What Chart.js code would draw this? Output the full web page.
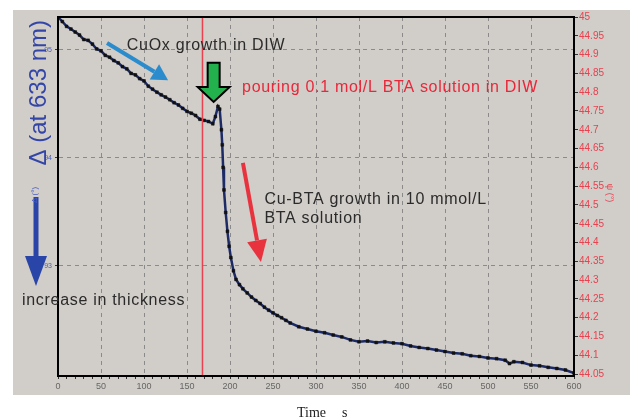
<!DOCTYPE html>
<html>
<head>
<meta charset="utf-8">
<script src="https://cdn.jsdelivr.net/npm/chart.js@4.4.1/dist/chart.umd.min.js"></script>
<style>
  body { margin: 0; background: #fff; }
  #wrap { width: 630px; height: 419px; position: relative; }
</style>
</head>
<body>
<div id="wrap"><canvas id="psiChart"></canvas></div>
<script>
// time (s) and psi values
const timeS = [0, 5, 10, 15, 20, 25, 30, 35, 40, 45, 50, 55, 60, 65, 70, 75, 80, 85, 90, 95,
    100, 105, 110, 115, 120, 125, 130, 135, 140, 145, 150, 155, 160, 165, 170, 175, 180, 183, 186, 188,
    190, 191, 192, 193, 195, 197, 199, 201, 204, 207, 211, 215, 220, 225, 230, 235, 240, 245, 250, 255,
    260, 265, 270, 280, 290, 300, 310, 320, 330, 340, 350, 360, 370, 380, 390, 400, 410, 420, 430, 440,
    450, 460, 470, 480, 490, 500, 510, 520, 525, 530, 540, 550, 560, 570, 580, 590, 600];
const psiValues = [45.000, 44.988, 44.975, 44.968, 44.960, 44.952, 44.940, 44.938, 44.928, 44.915,
    44.910, 44.898, 44.893, 44.884, 44.878, 44.868, 44.862, 44.850, 44.846, 44.836,
    44.830, 44.816, 44.808, 44.800, 44.793, 44.787, 44.780, 44.772, 44.766, 44.757,
    44.749, 44.744, 44.738, 44.728, 44.725, 44.722, 44.716, 44.735, 44.762, 44.755,
    44.700, 44.660, 44.600, 44.540, 44.480, 44.430, 44.390, 44.360, 44.325, 44.302,
    44.288, 44.277, 44.266, 44.255, 44.246, 44.238, 44.228, 44.220, 44.213, 44.206,
    44.200, 44.193, 44.186, 44.176, 44.170, 44.164, 44.160, 44.154, 44.149, 44.141,
    44.136, 44.138, 44.134, 44.136, 44.133, 44.131, 44.125, 44.121, 44.118, 44.114,
    44.110, 44.106, 44.104, 44.099, 44.097, 44.093, 44.091, 44.087, 44.078, 44.083,
    44.081, 44.074, 44.072, 44.068, 44.065, 44.061, 44.053];
const deltaTicks = [93, 94, 95];
const pouringTime = 168;

// draws an arrow from (x1,y1) to tip (x2,y2)
function drawArrow(ctx, x1, y1, x2, y2, color, width, headLen, headHalf) {
    const ang = Math.atan2(y2 - y1, x2 - x1);
    const bx = x2 - headLen * Math.cos(ang);
    const by = y2 - headLen * Math.sin(ang);
    ctx.save();
    ctx.strokeStyle = color;
    ctx.fillStyle = color;
    ctx.lineWidth = width;
    ctx.beginPath();
    ctx.moveTo(x1, y1);
    ctx.lineTo(bx, by);
    ctx.stroke();
    ctx.beginPath();
    ctx.moveTo(x2, y2);
    ctx.lineTo(bx + headHalf * Math.sin(ang), by - headHalf * Math.cos(ang));
    ctx.lineTo(bx - headHalf * Math.sin(ang), by + headHalf * Math.cos(ang));
    ctx.closePath();
    ctx.fill();
    ctx.restore();
}

const backdrop = {
    id: 'backdrop',
    beforeDraw(chart) {
        const ctx = chart.ctx;
        ctx.save();
        ctx.fillStyle = '#d1cdc8';
        ctx.fillRect(13, 10, chart.width - 13, 385);
        ctx.restore();
    }
};

const decorations = {
    id: 'decorations',
    afterDraw(chart) {
        const ctx = chart.ctx;
        const area = chart.chartArea;
        const x = chart.scales.x;
        const y = chart.scales.psi;
        const px = v => x.getPixelForValue(v);
        const py = v => y.getPixelForValue(v);

        ctx.save();
        // pouring line
        ctx.strokeStyle = '#e8414f';
        ctx.lineWidth = 1.5;
        ctx.beginPath();
        ctx.moveTo(px(pouringTime), area.top);
        ctx.lineTo(px(pouringTime), area.bottom);
        ctx.stroke();

        // frame
        ctx.strokeStyle = '#000';
        ctx.lineWidth = 2;
        ctx.strokeRect(area.left, area.top, area.right - area.left, area.bottom - area.top);

        // arrows
        drawArrow(ctx, px(57), py(44.931), px(128), py(44.832), '#2a8ccc', 4, 16, 9);
        drawArrow(ctx, px(215), py(44.612), px(236), py(44.348), '#e8333f', 4, 22, 10);

        // green arrow with black outline
        const gx = px(181), gTip = py(44.774), gTop = py(44.878), gHead = py(44.814);
        ctx.beginPath();
        ctx.moveTo(gx - 6, gTop);
        ctx.lineTo(gx + 6, gTop);
        ctx.lineTo(gx + 6, gHead);
        ctx.lineTo(gx + 16, gHead);
        ctx.lineTo(gx, gTip);
        ctx.lineTo(gx - 16, gHead);
        ctx.lineTo(gx - 6, gHead);
        ctx.closePath();
        ctx.fillStyle = '#22b14c';
        ctx.fill();
        ctx.lineWidth = 2;
        ctx.strokeStyle = '#000';
        ctx.stroke();

        // navy arrow beside the left axis
        drawArrow(ctx, area.left - 22, 197, area.left - 22, 286, '#2a45a8', 5, 30, 11);

        // texts
        ctx.font = '16px "Liberation Sans", Arial, sans-serif';
        ctx.letterSpacing = '0.7px';
        ctx.textBaseline = 'alphabetic';
        ctx.fillStyle = '#2b2b2b';
        ctx.fillText('CuOx growth in DIW', px(80), py(44.912));
        ctx.fillText('Cu-BTA growth in 10 mmol/L', px(240), py(44.503));
        ctx.fillText('BTA solution', px(240), py(44.452));
        ctx.fillText('increase in thickness', 22, 305);
        ctx.fillStyle = '#e8283a';
        ctx.fillText('pouring 0.1 mol/L BTA solution in DIW', px(214), py(44.80));
        ctx.letterSpacing = '0px';

        // rotated axis texts
        ctx.save();
        ctx.translate(46, 20);
        ctx.rotate(-Math.PI / 2);
        ctx.textAlign = 'right';
        ctx.fillStyle = '#3346a8';
        ctx.font = '24px "Liberation Sans", Arial, sans-serif';
        ctx.fillText('\u0394 (at 633 nm)', 0, 0);
        ctx.restore();

        ctx.save();
        ctx.translate(37, 195);
        ctx.rotate(-Math.PI / 2);
        ctx.textAlign = 'center';
        ctx.fillStyle = '#4a5fc0';
        ctx.font = '8px "Liberation Sans", Arial, sans-serif';
        ctx.fillText('\u0394 (\u00b0)', 0, 0);
        ctx.restore();

        ctx.save();
        ctx.translate(607, 193);
        ctx.rotate(Math.PI / 2);
        ctx.textAlign = 'center';
        ctx.fillStyle = '#e8414f';
        ctx.font = '9px "Liberation Sans", Arial, sans-serif';
        ctx.fillText('\u03c8 (\u00b0)', 0, 0);
        ctx.restore();

        // x axis title
        ctx.fillStyle = '#222';
        ctx.font = '14px "Liberation Serif", "Times New Roman", serif';
        ctx.fillText('Time', 297, 417);
        ctx.fillText('s', 342, 417);
        ctx.restore();
    }
};

const ctx = document.getElementById('psiChart').getContext('2d');
new Chart(ctx, {
    type: 'line',
    data: {
        datasets: [{
            data: timeS.map((t, i) => ({ x: t, y: psiValues[i] })),
            yAxisID: 'psi',
            borderColor: '#1c2a66',
            borderWidth: 2.5,
            tension: 0,
            pointStyle: 'rect',
            pointRadius: 2,
            pointBackgroundColor: '#111',
            pointBorderColor: '#111',
            pointBorderWidth: 0.5
        }]
    },
    options: {
        responsive: true,
        maintainAspectRatio: false,
        animation: false,
        layout: { padding: { top: 17 } },
        plugins: {
            legend: { display: false },
            tooltip: { enabled: false }
        },
        scales: {
            x: {
                type: 'linear',
                min: 0,
                max: 600,
                afterFit: s => { s.height = 43; },
                border: { color: '#000', width: 2, dash: [4, 4] },
                grid: {
                    color: c => (c.tick && c.tick.value % 50 === 0 && c.tick.value > 0 && c.tick.value < 600) ? '#8a8a8a' : 'transparent',
                    tickColor: '#333',
                    tickLength: 3
                },
                ticks: {
                    stepSize: 10,
                    autoSkip: false,
                    maxRotation: 0,
                    padding: 2,
                    color: '#666',
                    font: { size: 9, family: 'Liberation Sans, Arial, sans-serif' },
                    callback: v => (v % 50 === 0 ? String(v) : '')
                }
            },
            delta: {
                type: 'linear',
                position: 'left',
                min: 91.98,
                max: 95.305,
                afterFit: s => { s.width = 58; },
                afterBuildTicks: s => { s.ticks = deltaTicks.map(v => ({ value: v })); },
                border: { color: '#000', width: 2, dash: [4, 4] },
                grid: {
                    color: '#8a8a8a',
                    tickColor: '#333',
                    tickLength: 3
                },
                ticks: {
                    padding: 3,
                    color: '#4a5fc0',
                    font: { size: 7, family: 'Liberation Sans, Arial, sans-serif' }
                }
            },
            psi: {
                type: 'linear',
                position: 'right',
                min: 44.045,
                max: 45,
                afterFit: s => { s.width = 56; },
                afterBuildTicks: s => {
                    const t = [];
                    for (let v = 4405; v <= 4500; v += 5) t.push({ value: v / 100 });
                    s.ticks = t;
                },
                border: { color: '#000', width: 2 },
                grid: {
                    drawOnChartArea: false,
                    tickColor: '#333',
                    tickLength: 4
                },
                ticks: {
                    padding: 1,
                    color: '#e8414f',
                    font: { size: 10, family: 'Liberation Sans, Arial, sans-serif' },
                    callback: v => String(Math.round(v * 100) / 100)
                }
            }
        }
    },
    plugins: [backdrop, decorations]
});
</script>
</body>
</html>
